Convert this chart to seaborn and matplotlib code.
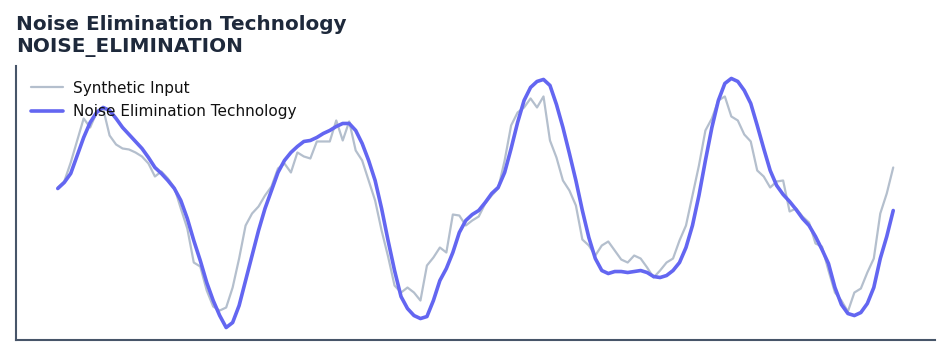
import numpy as np
import pandas as pd
import matplotlib
matplotlib.use("Agg")
import matplotlib.pyplot as plt
import seaborn as sns

# --- data ---
synthetic_input = [
    0.13, 0.19, 0.38, 0.60, 0.82, 0.73, 0.88, 0.92, 0.65, 0.56,
    0.52, 0.51, 0.48, 0.44, 0.37, 0.24, 0.29, 0.22, 0.13, -0.08,
    -0.28, -0.62, -0.66, -0.90, -1.06, -1.10, -1.07, -0.87, -0.58, -0.25,
    -0.13, -0.06, 0.05, 0.14, 0.32, 0.37, 0.28, 0.48, 0.44, 0.42,
    0.59, 0.59, 0.59, 0.80, 0.60, 0.79, 0.50, 0.40, 0.20, 0.00,
    -0.30, -0.56, -0.85, -0.92, -0.87, -0.92, -1.00, -0.65, -0.57, -0.47,
    -0.52, -0.14, -0.15, -0.25, -0.20, -0.16, -0.03, 0.05, 0.12, 0.40,
    0.75, 0.88, 0.93, 1.02, 0.93, 1.04, 0.60, 0.43, 0.20, 0.10,
    -0.05, -0.39, -0.45, -0.55, -0.45, -0.41, -0.50, -0.59, -0.62, -0.55,
    -0.58, -0.67, -0.77, -0.70, -0.62, -0.58, -0.40, -0.25, 0.05, 0.35,
    0.70, 0.82, 1.00, 1.04, 0.84, 0.80, 0.66, 0.59, 0.30, 0.24,
    0.13, 0.19, 0.20, -0.11, -0.08, -0.16, -0.22, -0.43, -0.46, -0.70,
    -0.92, -1.00, -1.11, -0.92, -0.88, -0.72, -0.58, -0.13, 0.07, 0.33,
]
noise_elimination = [
    0.12, 0.18, 0.27, 0.45, 0.63, 0.78, 0.88, 0.93, 0.90, 0.82,
    0.73, 0.66, 0.59, 0.52, 0.43, 0.33, 0.27, 0.20, 0.12, 0.00,
    -0.18, -0.40, -0.60, -0.82, -1.00, -1.15, -1.27, -1.22, -1.05, -0.80,
    -0.55, -0.30, -0.08, 0.10, 0.28, 0.40, 0.48, 0.54, 0.59, 0.60,
    0.63, 0.67, 0.70, 0.74, 0.77, 0.77, 0.70, 0.57, 0.40, 0.20,
    -0.08, -0.40, -0.70, -0.96, -1.08, -1.15, -1.18, -1.16, -1.00, -0.80,
    -0.68, -0.52, -0.32, -0.20, -0.14, -0.10, -0.02, 0.07, 0.13, 0.28,
    0.52, 0.78, 1.00, 1.13, 1.19, 1.21, 1.15, 0.96, 0.73, 0.47,
    0.20, -0.10, -0.37, -0.58, -0.70, -0.73, -0.71, -0.71, -0.72, -0.71,
    -0.70, -0.72, -0.76, -0.77, -0.75, -0.70, -0.62, -0.47, -0.25, 0.05,
    0.40, 0.73, 1.00, 1.17, 1.22, 1.19, 1.10, 0.97, 0.75, 0.52,
    0.30, 0.15, 0.06, -0.01, -0.09, -0.18, -0.25, -0.36, -0.49, -0.63,
    -0.87, -1.04, -1.13, -1.15, -1.12, -1.03, -0.87, -0.58, -0.36, -0.10,
]
series_names = ["Synthetic Input", "Noise Elimination Technology"]
title_lines = ["Noise Elimination Technology", "NOISE_ELIMINATION"]

t = np.arange(len(synthetic_input))
df = pd.DataFrame({
    "t": np.concatenate([t, t]),
    "value": synthetic_input + noise_elimination,
    "series": [series_names[0]] * len(t) + [series_names[1]] * len(t),
})

sns.set_theme(style="white")
plt.rcParams["font.family"] = ["DejaVu Sans"]

fig = plt.figure(figsize=(9.51, 3.56), dpi=100)
ax = fig.add_axes([16 / 951, 16 / 356, (935 - 16) / 951, (340 - 66) / 356])

palette = {series_names[0]: "#b4bfcd", series_names[1]: "#6366f1"}
sns.lineplot(data=df, x="t", y="value", hue="series", palette=palette,
             size="series", sizes={series_names[0]: 1.6, series_names[1]: 2.6},
             ax=ax, legend=True)

ax.set_xlabel("")
ax.set_ylabel("")
ax.set_xticks([])
ax.set_yticks([])
for side in ["top", "right"]:
    ax.spines[side].set_visible(False)
for side in ["left", "bottom"]:
    ax.spines[side].set_color("#475569")
    ax.spines[side].set_linewidth(1.5)

leg = ax.legend(loc="upper left", frameon=False, fontsize=11,
                handlelength=2.1, handletextpad=0.7, borderaxespad=0.55,
                labelspacing=0.55)
for h, lw in zip(leg.get_lines(), [1.6, 2.6]):
    h.set_linewidth(lw)
for txt in leg.get_texts():
    txt.set_color("#111111")

fig.text(16 / 951, 1 - 15 / 356, title_lines[0] + "\n" + title_lines[1],
         ha="left", va="top", fontsize=14.4, fontweight="bold",
         color="#1e293b", linespacing=1.2)

fig.savefig("out.png", dpi=100)
